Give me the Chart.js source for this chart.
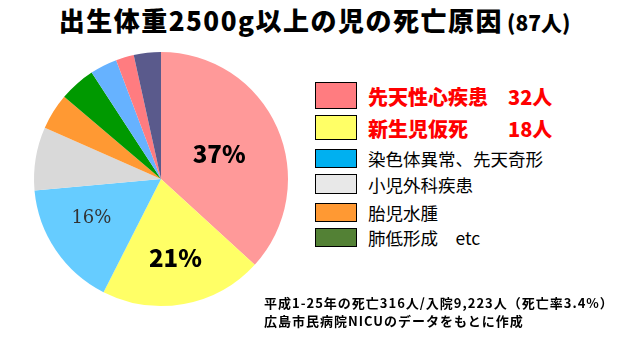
<!DOCTYPE html>
<html>
<head>
<meta charset="utf-8">
<script src="https://cdn.jsdelivr.net/npm/chart.js@4.4.1/dist/chart.umd.min.js"></script>
<style>
  html, body { margin: 0; padding: 0; background: #fff; }
  body { width: 629px; height: 341px; position: relative; overflow: hidden;
         font-family: "Noto Sans CJK JP", sans-serif; }
  #title { position: absolute; left: 0; top: 1px; width: 629px; text-align: center;
           font-size: 26px; font-weight: 900; color: #000; letter-spacing: 1.5px; }
  #title small { font-size: 21px; letter-spacing: 0; margin-left: 4px; }
  #pieBox { position: absolute; left: 30px; top: 48px; width: 262px; height: 262px; }
  .leg { position: absolute; left: 315px; width: 468px; }
  .leg .sw { position: absolute; left: 0; width: 40px; border: 1px solid #000; }
  .leg .tx { position: absolute; left: 53px; white-space: pre; }
  .leg.big .tx { color: #f00; font-weight: 900; font-size: 20px; }
  .leg.small .tx { color: #000; font-size: 17.5px; }
  #note { position: absolute; left: 264px; top: 294px; font-size: 13px; font-weight: 700;
          line-height: 18px; color: #000; white-space: pre; letter-spacing: 1px; }
</style>
</head>
<body>
<div id="title">出生体重2500g以上の児の死亡原因<small>(87人)</small></div>
<div id="pieBox"><canvas id="pie" width="262" height="262"></canvas></div>
<div id="legend"></div>
<div id="note">平成1-25年の死亡316人/入院9,223人（死亡率3.4%）
広島市民病院NICUのデータをもとに作成</div>
<script>
// ─────────────────────────────────────────
//  DATA
// ─────────────────────────────────────────
const causes      = ['先天性心疾患', '新生児仮死', '染色体異常、先天奇形', '小児外科疾患',
                     '胎児水腫', '肺低形成', 'その他1', 'その他2', 'その他3'];
const deaths      = [32, 18, 14, 7, 4, 4, 3, 2, 3];
const sliceColors = ['#FF9999', '#FFFF66', '#66CCFF', '#D9D9D9', '#FF9933',
                     '#009900', '#66B2FF', '#FF7C80', '#5A5A8C'];
const pctLabels   = ['37%', '21%', '16%', '', '', '', '', '', ''];

// legend rows: text, swatch colour, big (red) or not
const legendText   = ['先天性心疾患　32人', '新生児仮死　　18人', '染色体異常、先天奇形',
                      '小児外科疾患', '胎児水腫', '肺低形成　etc'];
const legendColors = ['#FF7C80', '#FFFF66', '#00B0F0', '#E8E8E8', '#FF9933', '#538135'];
const legendBig    = [true, true, false, false, false, false];

// ─────────────────────────────────────────
//  LEGEND (html)
// ─────────────────────────────────────────
const legTop    = [82, 115, 149, 174, 203, 228];
const legHeight = [25, 23, 17, 18, 17, 17];
const legendEl  = document.getElementById('legend');
legendText.forEach((t, i) => {
  const row = document.createElement('div');
  row.className = 'leg ' + (legendBig[i] ? 'big' : 'small');
  row.style.top = legTop[i] + 'px';
  const fs = legendBig[i] ? 20 : 17.5;
  row.innerHTML = `<div class="sw" style="top:0;height:${legHeight[i]}px;background:${legendColors[i]}"></div>` +
                  `<div class="tx" style="top:${(legHeight[i] + 3 - fs * 1.45) / 2}px">${t}</div>`;
  legendEl.appendChild(row);
});

// ─────────────────────────────────────────
//  SLICE LABELS plugin
// ─────────────────────────────────────────
const labelStyle = [
  { r: 0.50, da: 0,    font: '900 24px "Noto Sans CJK JP"', color: '#000' },
  { r: 0.63, da: 0,    font: '900 24px "Noto Sans CJK JP"', color: '#000' },
  { r: 0.63, da: 0.08, font: '18px "DejaVu Serif"', color: '#333' },
];

const sliceLabels = {
  id: 'sliceLabels',
  afterDatasetsDraw(chart) {
    const ctx  = chart.ctx;
    const meta = chart.getDatasetMeta(0);
    meta.data.forEach((arc, i) => {
      if (!pctLabels[i]) return;
      const p   = arc.getProps(['x', 'y', 'startAngle', 'endAngle', 'outerRadius'], true);
      const st  = labelStyle[i];
      const mid = (p.startAngle + p.endAngle) / 2 + st.da;
      ctx.save();
      ctx.font = st.font;
      ctx.fillStyle = st.color;
      ctx.textAlign = 'center';
      ctx.textBaseline = 'middle';
      ctx.fillText(pctLabels[i], p.x + Math.cos(mid) * p.outerRadius * st.r,
                                 p.y + Math.sin(mid) * p.outerRadius * st.r);
      ctx.restore();
    });
  },
};

// ─────────────────────────────────────────
//  PIE
// ─────────────────────────────────────────
new Chart(document.getElementById('pie'), {
  type: 'pie',
  data: {
    labels: causes,
    datasets: [{
      data: deaths,
      backgroundColor: sliceColors,
      borderWidth: 0,
    }],
  },
  options: {
    responsive: false,
    animation: false,
    layout: { padding: 4 },
    plugins: { legend: { display: false }, tooltip: { enabled: false } },
  },
  plugins: [sliceLabels],
});
</script>
</body>
</html>
